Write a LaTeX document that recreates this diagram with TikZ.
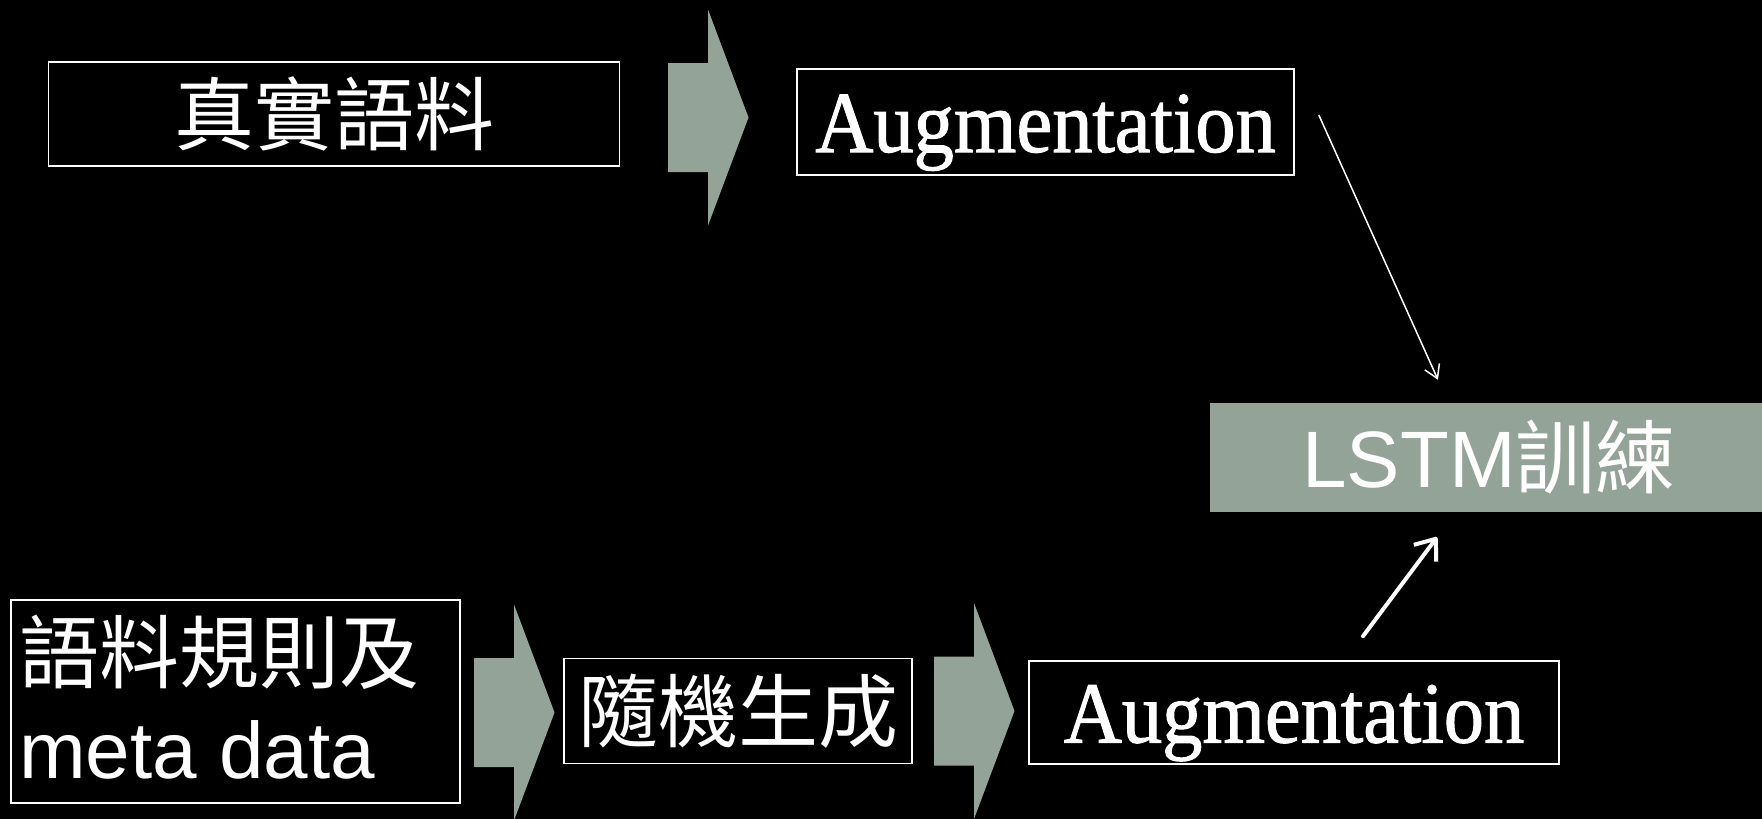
\documentclass[tikz,border=0pt]{standalone}
\usepackage{fontspec}
\setmainfont{Liberation Serif}
\newfontfamily\cjk{Noto Sans CJK TC}
\newfontfamily\arial{Liberation Sans}
\newfontfamily\augserif[FakeStretch=0.925,FakeBold=1.2]{Liberation Serif}
\usetikzlibrary{arrows.meta}

\definecolor{flowfill}{RGB}{148,163,152}

\tikzset{
  flowbox/.style={draw=white, line width=1.6pt, fill=black, text=white,
    inner sep=0pt, text height=60pt, text depth=0pt},
  augfont/.style={font=\augserif\fontsize{87}{96}\selectfont},
  cjkfont/.style={font=\cjk\fontsize{80}{90}\selectfont},
  linetext/.style={text=white, inner sep=0pt, anchor=base west},
  thinarrow/.style={draw=white, line width=1.5pt,
    -{Straight Barb[length=13pt,width=16pt]}},
  thickarrow/.style={draw=white, line width=4pt, line cap=round,
    -{Straight Barb[length=18pt,width=28pt,line join=round]}},
  blockarrow/.pic={
    \fill[flowfill] (0,-54.5) -- (40,-54.5) -- (40,-108) -- (80.5,0)
      -- (40,108) -- (40,54.5) -- (0,54.5) -- cycle;
  }
}

\begin{document}
\begin{tikzpicture}[x=1pt, y=-1pt]
  % canvas
  \fill[black] (0,0) rectangle (1762,819);
  \useasboundingbox (0,0) rectangle (1762,819);

  % upper row
  \node[flowbox, cjkfont, minimum width=571pt, minimum height=104pt]
    (real) at (334,114) {真實語料};
  \pic at (668,117.5) {blockarrow};
  \node[flowbox, augfont, minimum width=497pt, minimum height=106pt]
    (augA) at (1045.5,122) {Augmentation};

  % training block
  \node[fill=flowfill, text=white, inner sep=0pt, text height=60pt, text depth=0pt,
    minimum width=552pt, minimum height=109pt, font=\fontsize{80}{90}\selectfont]
    (lstm) at (1486,457.5) {\hspace*{6pt}{\arial LSTM}{\cjk 訓練}};

  % lower row
  \node[flowbox, minimum width=449pt, minimum height=203pt]
    (rules) at (235.5,701.5) {};
  \node[linetext, cjkfont] (rulesA) at (19,682) {語料規則及};
  \node[linetext, font=\arial\fontsize{80}{90}\selectfont] (rulesB) at (19,778) {meta data};
  \pic at (474,712.5) {blockarrow};
  \node[flowbox, cjkfont, minimum width=348pt, minimum height=105pt]
    (gen) at (738,711) {隨機生成};
  \pic at (934,711) {blockarrow};
  \node[flowbox, augfont, minimum width=530pt, minimum height=103pt]
    (augB) at (1294,712.5) {Augmentation};

  % connectors into the training block
  \draw[thinarrow] ([shift={(24,-7)}]augA.east) -- ([shift={(-48,-23)}]lstm.north);
  \draw[thickarrow] ([shift={(69,-24)}]augB.north) -- ([shift={(-49,25)}]lstm.south);
\end{tikzpicture}
\end{document}
